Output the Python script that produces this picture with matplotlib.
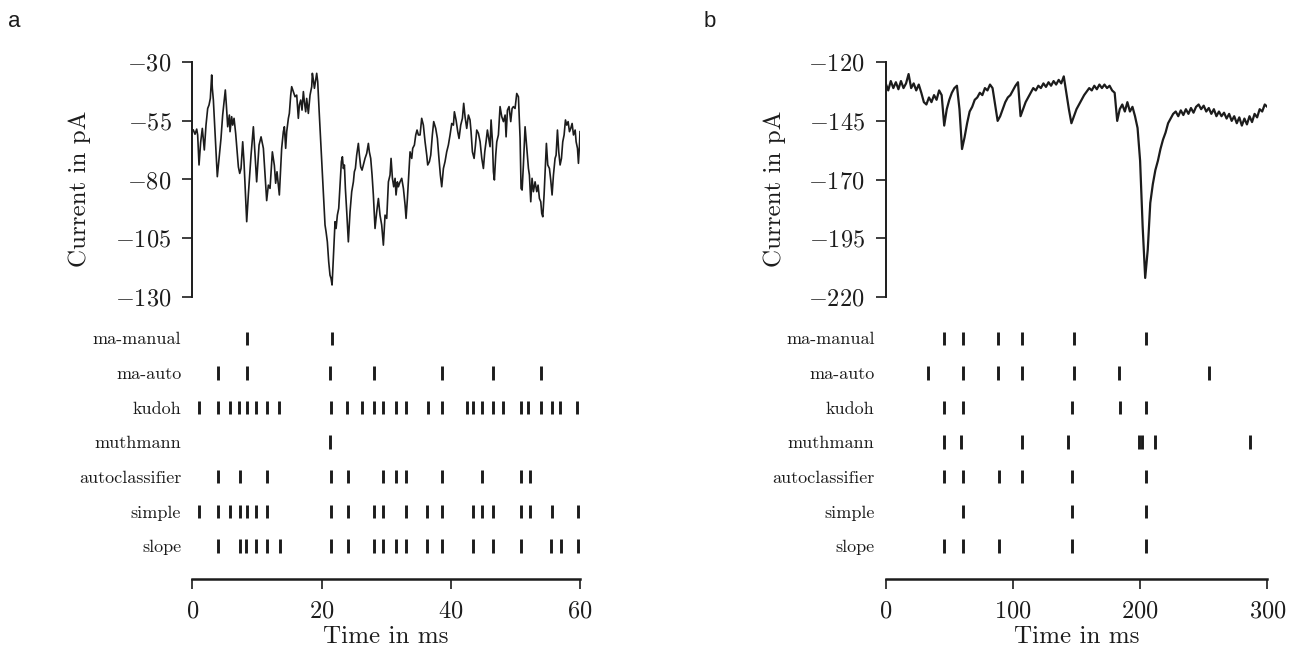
import matplotlib
matplotlib.use('Agg')
import matplotlib.pyplot as plt
import numpy as np

plt.rcParams['font.family'] = 'serif'
plt.rcParams['font.serif'] = ['cmr10']
plt.rcParams['mathtext.fontset'] = 'cm'
plt.rcParams['axes.formatter.use_mathtext'] = True

W, H = 1303, 653
INK = '#1c1c1c'

# method names, top row first
methods = ['ma-manual', 'ma-auto', 'kudoh', 'muthmann', 'autoclassifier', 'simple', 'slope']

# panel a: current trace (ms, pA)
trace_a_t = [0.16, 0.42, 0.68, 0.83, 1.04, 1.29, 1.55, 1.86, 2.12, 2.38,
             2.59, 2.79, 3.0, 3.1, 3.26, 3.87, 4.2, 4.44, 4.7, 5.11,
             5.27, 5.48, 5.74, 5.84, 6.09, 6.25, 6.46, 6.71, 7.13, 7.34,
             7.54, 7.8, 8.0, 8.42, 8.67, 9.09, 9.45, 9.71, 9.96, 10.33,
             10.64, 11.0, 11.51, 11.77, 12.03, 12.39, 12.7, 12.9, 13.11, 13.47,
             13.83, 14.09, 14.25, 14.45, 14.61, 14.87, 15.02, 15.23, 15.38, 15.64,
             15.9, 16.16, 16.41, 16.57, 16.78, 16.98, 17.19, 17.34, 17.55, 17.7,
             17.96, 18.22, 18.48, 18.58, 18.74, 18.9, 19.05, 19.25, 19.41, 19.61,
             20.03, 20.28, 20.54, 20.7, 20.9, 21.11, 21.31, 21.47, 21.63, 21.73,
             21.94, 22.09, 22.25, 22.45, 22.66, 22.86, 23.07, 23.23, 23.38, 23.54,
             23.69, 23.9, 24.15, 24.41, 24.67, 24.93, 25.08, 25.24, 25.44, 25.7,
             25.86, 26.06, 26.27, 26.47, 26.73, 26.99, 27.25, 27.4, 27.61, 27.82,
             28.02, 28.28, 28.54, 28.8, 29.05, 29.31, 29.57, 29.83, 30.09, 30.35,
             30.6, 30.76, 30.97, 31.17, 31.38, 31.53, 31.74, 31.89, 32.15, 32.41,
             32.67, 32.93, 33.08, 33.29, 33.49, 33.7, 33.96, 34.11, 34.37, 34.58,
             34.78, 34.99, 35.25, 35.5, 35.76, 36.02, 36.28, 36.43, 36.69, 36.9,
             37.15, 37.36, 37.67, 37.93, 38.13, 38.39, 38.6, 38.86, 39.11, 39.37,
             39.63, 39.89, 40.15, 40.41, 40.56, 40.82, 41.08, 41.28, 41.54, 41.8,
             42.0, 42.21, 42.47, 42.73, 42.98, 43.14, 43.35, 43.61, 43.82, 44.02,
             44.28, 44.54, 44.8, 45.05, 45.26, 45.46, 45.67, 45.87, 46.08, 46.24,
             46.45, 46.6, 46.75, 46.96, 47.12, 47.37, 47.63, 47.89, 48.15, 48.41,
             48.56, 48.77, 49.02, 49.28, 49.49, 49.69, 49.95, 50.21, 50.47, 50.73,
             50.88, 51.04, 51.24, 51.5, 51.76, 52.02, 52.17, 52.38, 52.58, 52.79,
             53.05, 53.31, 53.51, 53.72, 53.93, 54.08, 54.24, 54.44, 54.65, 54.8,
             55.01, 55.27, 55.47, 55.68, 55.89, 56.14, 56.3, 56.51, 56.71, 56.92,
             57.13, 57.33, 57.54, 57.75, 57.95, 58.16, 58.37, 58.57, 58.78, 58.99,
             59.25, 59.4, 59.61, 59.76, 59.92, 60.0]
trace_a_v = [-58.9, -60.7, -58.5, -61.0, -73.8, -64.2, -58.2, -67.4, -56.8, -49.7,
             -48.2, -45.4, -35.4, -41.1, -46.1, -78.8, -69.6, -62.5, -52.5, -41.8,
             -48.2, -57.5, -52.5, -59.6, -53.2, -56.8, -53.9, -60.3, -74.6, -77.4,
             -75.3, -63.9, -72.4, -98.0, -86.6, -69.6, -57.5, -69.6, -81.0, -65.3,
             -61.8, -66.7, -89.0, -82.4, -83.8, -68.2, -74.0, -81.6, -76.7, -86.6,
             -66.7, -59.6, -57.5, -66.7, -59.6, -53.9, -51.8, -44.0, -40.4, -42.5,
             -44.7, -44.0, -53.9, -48.2, -46.1, -50.4, -42.5, -46.8, -51.1, -45.4,
             -51.8, -44.0, -40.4, -34.7, -37.6, -41.1, -38.3, -34.7, -38.3, -49.7,
             -72.4, -86.6, -99.4, -102.3, -106.6, -115.1, -120.8, -122.2, -125.0, -119.4,
             -106.6, -98.0, -100.9, -95.2, -92.3, -82.4, -72.4, -70.3, -75.3, -73.8,
             -83.8, -93.8, -106.6, -93.8, -85.2, -81.0, -76.7, -75.3, -69.6, -64.6,
             -69.6, -74.6, -76.0, -73.8, -71.0, -68.9, -64.6, -68.2, -71.0, -78.1,
             -86.6, -100.9, -93.8, -88.1, -95.2, -99.4, -108.0, -95.2, -96.6, -81.0,
             -78.1, -71.0, -79.5, -83.1, -79.5, -86.6, -81.0, -83.1, -81.0, -79.5,
             -83.8, -90.9, -96.6, -88.1, -78.1, -68.2, -71.0, -66.7, -65.3, -61.0,
             -58.9, -61.0, -61.0, -53.9, -56.8, -63.9, -69.6, -73.8, -72.4, -69.6,
             -61.0, -55.3, -58.2, -62.5, -69.6, -78.1, -83.1, -75.3, -72.4, -68.2,
             -65.3, -61.0, -56.1, -56.8, -51.1, -54.6, -59.6, -62.5, -56.8, -53.9,
             -47.5, -53.2, -58.2, -52.5, -54.6, -59.6, -68.2, -71.0, -65.3, -58.9,
             -60.3, -63.9, -71.0, -75.3, -68.2, -63.9, -58.9, -62.5, -66.0, -54.6,
             -63.9, -76.7, -80.2, -69.6, -63.9, -61.0, -48.9, -53.2, -55.3, -52.5,
             -61.8, -50.4, -48.9, -55.3, -49.7, -48.9, -49.7, -43.3, -44.7, -62.5,
             -83.8, -84.5, -73.8, -57.5, -66.7, -75.3, -78.1, -89.5, -79.5, -85.2,
             -81.0, -85.2, -82.4, -88.1, -89.5, -94.5, -95.9, -86.6, -73.8, -64.6,
             -73.8, -75.3, -80.2, -86.6, -78.1, -71.0, -69.6, -58.9, -68.2, -73.8,
             -71.0, -63.9, -61.0, -54.6, -56.8, -55.3, -59.6, -58.2, -56.1, -61.0,
             -58.9, -63.9, -66.7, -73.1, -65.3, -59.6]

# panel a: detected event times (ms), one list per method
events_a = [
    [8.4, 21.6],
    [3.9, 8.4, 21.3, 28.1, 38.6, 46.6, 53.9],
    [1.0, 3.9, 5.8, 7.3, 8.5, 9.8, 11.6, 13.4, 21.5, 24.0, 26.3, 28.1, 29.5, 31.5,
     33.0, 36.5, 38.6, 42.5, 43.5, 44.8, 46.6, 48.1, 50.8, 52.0, 54.0, 55.6, 56.9, 59.6],
    [21.3],
    [3.9, 7.4, 11.6, 21.5, 24.1, 29.5, 31.5, 33.0, 38.6, 44.9, 50.8, 52.2],
    [1.0, 3.9, 5.8, 7.4, 8.4, 9.9, 11.6, 21.5, 24.1, 28.1, 29.5, 33.0, 36.3, 38.6,
     43.5, 44.8, 46.6, 50.8, 52.2, 55.7, 59.7],
    [3.9, 7.4, 8.3, 9.9, 11.6, 13.5, 21.5, 24.1, 28.1, 29.5, 31.5, 33.0, 36.3, 38.6,
     43.5, 46.6, 50.8, 55.5, 57.0, 59.7],
]

# panel b: current trace sampled every 2 ms from 0 to 300 ms (pA)
trace_b_t = np.arange(0, 301, 2)
trace_b_v = [-129, -132, -128, -131, -128.5, -131.5, -128, -131, -129, -125,
             -131, -129, -132, -129.5, -133, -137, -138, -135, -137, -134,
             -136, -132, -134, -147, -140, -136, -133, -131, -130, -140,
             -157, -152, -146, -141, -139, -136, -135, -133, -134, -131,
             -132, -129.5, -131, -138, -145, -143, -140, -137, -135, -134,
             -132, -130, -128.5, -143, -140, -137, -135, -133, -131, -132,
             -130, -131, -129, -130.5, -128.5, -130, -128, -129.5, -127.5, -129,
             -126, -133, -140, -146, -143, -140, -138, -136, -134, -132.5,
             -131, -132, -130, -131.5, -129.5, -131, -129.5, -131, -130, -132,
             -133, -145, -140, -138, -141, -137, -141, -139, -143, -148,
             -162, -190, -212, -200, -180, -172, -166, -162, -157, -153,
             -150, -146, -144, -142, -141, -143, -140.5, -142.5, -140, -142,
             -139.5, -141.5, -139, -138, -140, -138.5, -141, -139.5, -142, -140,
             -143, -141, -143, -141.5, -144, -142, -145, -143, -146, -143.5,
             -147, -144, -146.5, -143, -145.5, -142, -143.5, -140, -141, -138,
             -139]

events_b = [
    [46.1, 60.5, 88.6, 106.9, 148.3, 204.3],
    [33.5, 60.5, 88.6, 106.9, 148.3, 183.7, 254.4],
    [46.1, 60.5, 146.2, 184.2, 204.3],
    [46.1, 59.2, 106.9, 143.6, 199.4, 201.5, 211.7, 286.4],
    [46.1, 60.5, 89.1, 106.9, 146.2, 204.3],
    [60.5, 146.2, 204.3],
    [46.1, 60.5, 89.1, 146.2, 204.3],
]

ticks_a_x = [0, 20, 40, 60]
ticks_a_y = [-30, -55, -80, -105, -130]
ticks_b_x = [0, 100, 200, 300]
ticks_b_y = [-120, -145, -170, -195, -220]


def PxAxes(fig, left, top, right, bottom):
    return fig.add_axes([left / W, 1 - bottom / H, (right - left) / W, (bottom - top) / H])


def TracePanel(fig, left, right, t, v, xlim, yticks, lw):
    ax = PxAxes(fig, left, 62.3, right, 296.7)
    ax.plot(t, v, color=INK, lw=lw, solid_joinstyle='round')
    ax.set_xlim(*xlim)
    ax.set_ylim(yticks[-1], yticks[0])
    for s in ['top', 'right', 'bottom']:
        ax.spines[s].set_visible(False)
    ax.spines['left'].set_bounds(yticks[-1], yticks[0])
    ax.spines['left'].set_linewidth(1.4)
    ax.spines['left'].set_color(INK)
    ax.set_xticks([])
    ax.set_yticks(yticks)
    ax.tick_params(axis='y', direction='out', length=7, width=1.2, pad=8,
                   labelsize=17.5, colors=INK)
    ax.set_ylabel('Current in pA', fontsize=18, color=INK)
    ax.yaxis.set_label_coords(-0.262, 0.46)
    return ax


def RasterPanel(fig, left, right, events, xlim, xticks):
    ax = PxAxes(fig, left, 320, right, 579.3)
    ax.eventplot(events, lineoffsets=list(range(len(methods))), linelengths=0.385,
                 linewidths=2.1, colors=INK)
    ax.set_xlim(*xlim)
    ax.set_ylim(6.962, -0.529)
    for s in ['top', 'right', 'left']:
        ax.spines[s].set_visible(False)
    ax.spines['bottom'].set_bounds(xlim[0], xlim[1])
    ax.spines['bottom'].set_linewidth(1.8)
    ax.spines['bottom'].set_color(INK)
    ax.set_yticks(list(range(len(methods))))
    ax.set_yticklabels(methods)
    ax.tick_params(axis='y', length=0, pad=8, labelsize=13, colors=INK)
    ax.set_xticks(xticks)
    ax.tick_params(axis='x', direction='out', length=7.5, width=1.2, pad=8,
                   labelsize=17.5, colors=INK)
    ax.set_xlabel('Time in ms', fontsize=18, color=INK)
    ax.xaxis.set_label_coords(0.5, -0.18)
    return ax


def run():
    fig = plt.figure(figsize=(W / 100, H / 100), dpi=100)

    TracePanel(fig, 192.3, 580.0, trace_a_t, trace_a_v, (0, 60), ticks_a_y, 1.2)
    RasterPanel(fig, 192.3, 580.0, events_a, (0, 60), ticks_a_x)

    TracePanel(fig, 885.7, 1267.3, trace_b_t, trace_b_v, (0, 300), ticks_b_y, 1.6)
    RasterPanel(fig, 885.7, 1267.3, events_b, (0, 300), ticks_b_x)

    fig.text(8 / W, 1 - 27 / H, 'a', family='Liberation Sans', fontsize=16, color=INK)
    fig.text(704 / W, 1 - 27 / H, 'b', family='Liberation Sans', fontsize=16, color=INK)

    fig.savefig('out.png', dpi=100)


if __name__ == '__main__':
    run()
